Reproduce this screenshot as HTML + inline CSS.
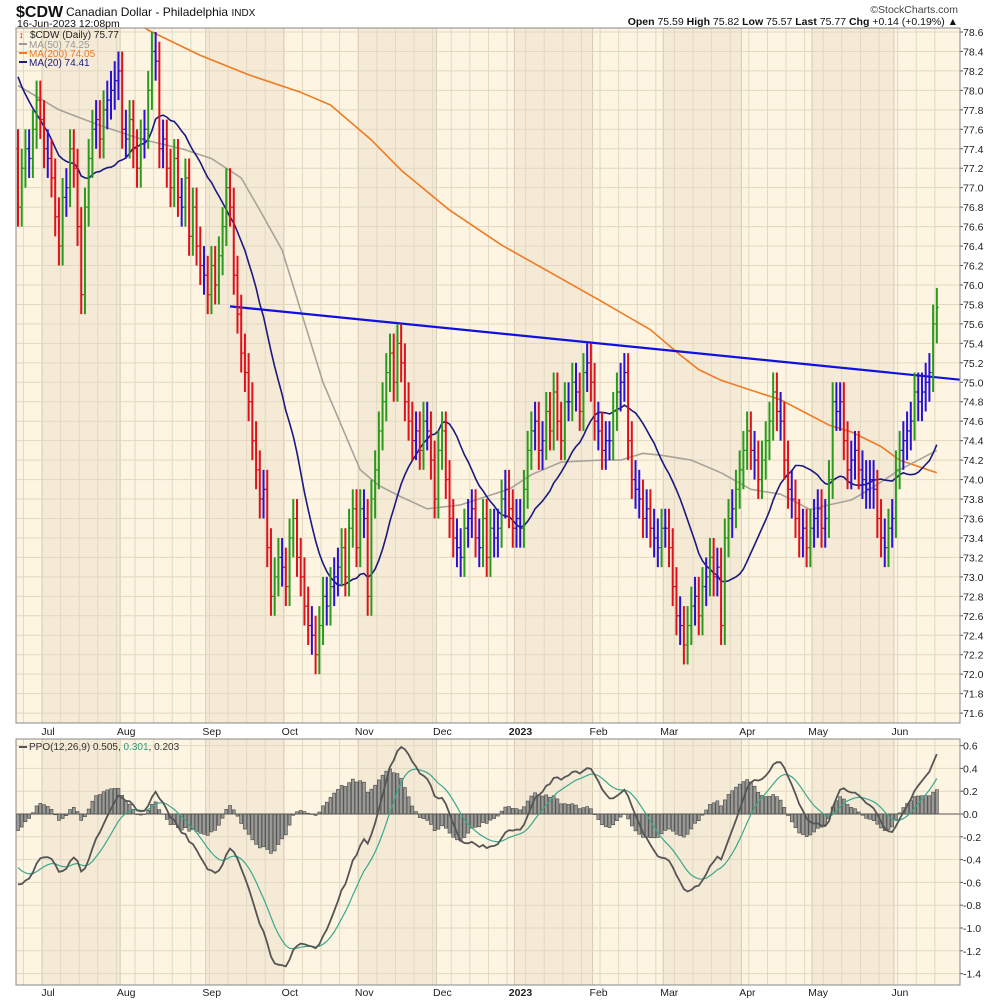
<!DOCTYPE html>
<html><head><meta charset="utf-8"><style>
html,body{margin:0;padding:0;background:#fff;}
svg{display:block;font-family:"Liberation Sans",sans-serif;}
</style></head><body>
<svg id="chart" width="1000" height="1000" viewBox="0 0 1000 1000" xmlns="http://www.w3.org/2000/svg">
<g id="bg"></g>
<g id="grid"></g>
<g id="ma"></g>
<g id="bars"></g>
<g id="ppo"></g>
<g id="axes"></g>
<text x="16" y="17" font-size="16" font-weight="bold" fill="#111">$CDW</text>
<text x="66" y="16" font-size="12" fill="#111">Canadian Dollar - Philadelphia <tspan font-size="10">INDX</tspan></text>
<text x="17" y="27" font-size="10.5" fill="#111">16-Jun-2023 12:08pm</text>
<text x="958" y="13" font-size="10.5" fill="#444" text-anchor="end">©StockCharts.com</text>
<text x="958" y="25" font-size="10.5" fill="#111" text-anchor="end"><tspan font-weight="bold">Open</tspan> 75.59 <tspan font-weight="bold">High</tspan> 75.82 <tspan font-weight="bold">Low</tspan> 75.57 <tspan font-weight="bold">Last</tspan> 75.77 <tspan font-weight="bold">Chg</tspan> +0.14 (+0.19%) ▲</text>
<g font-size="10">
<text x="30" y="38" fill="#222">$CDW (Daily) 75.77</text>
<text x="19" y="38" fill="#c00" font-size="9">↕</text>
<rect x="19" y="43" width="8" height="2" fill="#999"/><text x="29" y="48" fill="#999">MA(50) 74.25</text>
<rect x="19" y="52" width="8" height="2" fill="#f07a22"/><text x="29" y="57" fill="#f07a22">MA(200) 74.05</text>
<rect x="19" y="61" width="8" height="2" fill="#1a1a80"/><text x="29" y="66" fill="#1a1a80">MA(20) 74.41</text>
</g>
<g font-size="10">
<rect x="19" y="746" width="8" height="2" fill="#555"/><text x="29" y="750" fill="#333">PPO(12,26,9) 0.505, <tspan fill="#2a9a80">0.301</tspan>, 0.203</text>
</g>
</svg>
<script>
// ---- data ----
const priorCloses = [79.0,79.1,79.2,79.0,79.1,79.3,79.2,79.0,78.8,79.0,79.1,78.9,78.7,78.5,78.6,78.4,78.0,77.6,77.5,77.7,77.3,77.5,77.6,77.2,77.4];
const closes = [
76.8,77.2,77.4,77.3,77.6,77.9,77.7,77.4,77.3,77.1,
76.7,76.4,76.9,77.0,77.4,77.2,76.6,75.9,76.8,77.3,
77.6,77.7,77.5,77.8,77.9,78.0,78.1,78.2,77.6,77.5,
77.7,77.4,77.2,77.5,77.6,78.0,78.4,78.3,77.4,77.5,
77.2,77.0,77.3,76.9,76.8,77.1,76.5,76.8,76.4,76.2,
76.1,75.9,76.2,76.0,76.3,76.6,77.0,76.8,76.1,75.7,
75.3,75.1,74.8,74.4,74.1,73.8,73.9,73.3,72.8,73.0,
73.2,73.1,72.9,73.4,73.6,73.2,73.0,72.7,72.5,72.4,
72.2,72.5,72.8,72.7,72.9,73.0,73.1,73.3,73.0,73.5,
73.7,73.3,73.7,73.6,72.8,73.8,74.1,74.5,74.8,75.1,
75.3,75.0,75.4,75.2,74.8,74.6,74.4,74.5,74.3,74.6,
74.5,74.2,73.8,74.3,74.5,74.0,73.6,73.4,73.3,73.2,
73.5,73.6,73.7,73.4,73.3,73.6,73.2,73.5,73.4,73.5,
73.8,73.9,73.7,73.5,73.6,73.5,73.9,74.3,74.5,74.6,
74.3,74.4,74.7,74.5,74.9,74.6,74.4,74.8,74.8,75.0,
74.9,74.7,75.1,75.2,75.0,74.6,74.5,74.3,74.4,74.4,
74.7,74.9,75.0,75.1,74.4,74.0,73.9,73.8,73.6,73.7,
73.5,73.4,73.3,73.5,73.5,73.3,72.9,72.6,72.5,72.3,
72.5,72.7,72.8,72.6,72.9,73.0,73.2,73.0,73.1,72.5,
73.4,73.6,73.7,73.9,74.1,74.3,74.5,74.3,74.2,74.0,
74.2,74.4,74.6,74.9,74.7,74.6,74.2,73.9,73.8,73.6,
73.4,73.5,73.3,73.5,73.6,73.7,73.5,73.6,74.0,74.8,
74.7,74.8,74.4,74.1,74.2,74.3,74.1,74.0,73.9,74.0,
73.9,73.6,73.4,73.3,73.5,73.6,74.1,74.3,74.4,74.5,
74.6,74.9,74.8,74.9,75.0,75.1,75.6,75.77];
const ma50Idx = [0,11,22,33,44,52,60,65,71,76,82,92,97,102,110,119,127,132,138,146,157,162,168,173,181,189,197,205,213,218,224,229,237,247];
const ma50Val = [78.05,77.8,77.64,77.5,77.4,77.3,77.1,76.77,76.36,75.74,75.0,74.1,73.94,73.84,73.7,73.74,73.84,73.9,74.05,74.18,74.2,74.2,74.27,74.25,74.2,74.07,73.9,73.85,73.69,73.74,73.79,73.9,74.1,74.3];
const ma200Idx = [0,18,35,49,62,76,84,95,103,116,130,143,156,170,178,183,189,197,205,210,218,224,232,237,247];
const ma200Val = [79.5,79.05,78.62,78.36,78.16,77.98,77.85,77.49,77.18,76.77,76.41,76.13,75.85,75.54,75.28,75.13,75.02,74.92,74.82,74.72,74.56,74.49,74.34,74.2,74.07];
const trendStart = [57, 75.78];
const trendEnd = [255, 75.02];
const monthNames = ["Jul","Aug","Sep","Oct","Nov","Dec","2023","Feb","Mar","Apr","May","Jun"];
const monthStartIdx = [7,28,51,72,92,113,134,155,174,195,214,236];
const priceTicks = [78.6,78.4,78.2,78.0,77.8,77.6,77.4,77.2,77.0,76.8,76.6,76.4,76.2,76.0,75.8,75.6,75.4,75.2,75.0,74.8,74.6,74.4,74.2,74.0,73.8,73.6,73.4,73.2,73.0,72.8,72.6,72.4,72.2,72.0,71.8,71.6];
const ppoTicks = [0.6,0.4,0.2,0.0,-0.2,-0.4,-0.6,-0.8,-1.0,-1.2,-1.4];

// ---- scales ----
const L=16,R=960,T=28,B=723,PT=739,PB=985;
const bx=i=>18+i*3.72;
const py=p=>32+(78.6-p)*97.3;
const qy=v=>814-v*114;
const NS="http://www.w3.org/2000/svg";
function mk(tag,attrs,parent){const e=document.createElementNS(NS,tag);for(const k in attrs)e.setAttribute(k,attrs[k]);parent.appendChild(e);return e;}
const bg=document.getElementById('bg'),grid=document.getElementById('grid'),maG=document.getElementById('ma'),barsG=document.getElementById('bars'),ppoG=document.getElementById('ppo'),axes=document.getElementById('axes');

[[T,B],[PT,PB]].forEach(([t,b],k)=>{
  const r=mk('rect',{x:L,y:t,width:R-L,height:b-t,fill:'#fdf5e2'},bg);
  
  
  monthStartIdx.forEach((s,m)=>{
    if(m%2===0){const e=m+1<monthStartIdx.length?monthStartIdx[m+1]:248;
      const x1=Math.max(L,bx(s)-2),x2=Math.min(R,bx(e)-2);
      const sh=mk('rect',{x:x1,y:t,width:x2-x1,height:b-t,fill:'#f4ead6'},bg);
      
      }
  });
});
for(let i=2;i<248;i+=5){const x=bx(i)-2;
  mk('line',{x1:x,x2:x,y1:T,y2:B,stroke:'#e2d8c2','stroke-width':1},grid);
  mk('line',{x1:x,x2:x,y1:PT,y2:PB,stroke:'#e2d8c2','stroke-width':1},grid);}
monthStartIdx.forEach(s=>{const x=bx(s)-2;
  mk('line',{x1:x,x2:x,y1:T,y2:B,stroke:'#d6cbb2'},grid);mk('line',{x1:x,x2:x,y1:PT,y2:PB,stroke:'#d6cbb2'},grid);});
priceTicks.forEach(p=>{mk('line',{x1:L,x2:R,y1:py(p),y2:py(p),stroke:'#e2d8c2'},grid);
  const t=mk('text',{x:963,y:py(p)+4,'font-size':10.5,fill:'#222'},axes);t.textContent=p.toFixed(1);
  
  
  mk('line',{x1:R,x2:R+3,y1:py(p),y2:py(p),stroke:'#555'},axes);});
ppoTicks.forEach(v=>{mk('line',{x1:L,x2:R,y1:qy(v),y2:qy(v),stroke:'#e2d8c2'},grid);
  const t=mk('text',{x:963,y:qy(v)+4,'font-size':10.5,fill:'#222'},axes);t.textContent=v.toFixed(1);
  
  
  mk('line',{x1:R,x2:R+3,y1:qy(v),y2:qy(v),stroke:'#555'},axes);});
monthStartIdx.forEach((s,m)=>{
  [735,996].forEach(y=>{const t=mk('text',{x:bx(s)+4,y:y,'font-size':10.5,fill:'#222','text-anchor':'middle','font-weight':monthNames[m]==='2023'?'bold':'normal'},axes);
  t.textContent=monthNames[m];
  
  });
});
mk('rect',{x:L,y:T,width:R-L,height:B-T,fill:'none',stroke:'#888'},axes);
mk('rect',{x:L,y:PT,width:R-L,height:PB-PT,fill:'none',stroke:'#888'},axes);

const defs=mk('defs',{},document.getElementById('chart'));
const cp=mk('clipPath',{id:'pc'},defs);mk('rect',{x:L,y:T,width:R-L,height:B-T},cp);
maG.setAttribute('clip-path','url(#pc)');barsG.setAttribute('clip-path','url(#pc)');

function pathFrom(idx,vals,yf){return idx.map((i,k)=>(k?'L':'M')+bx(i).toFixed(1)+','+yf(vals[k]).toFixed(1)).join('');}
const m200=mk('path',{d:pathFrom(ma200Idx,ma200Val,py),fill:'none',stroke:'#f07a22','stroke-width':1.6,'stroke-linejoin':'round'},maG);


const m50=mk('path',{d:pathFrom(ma50Idx,ma50Val,py),fill:'none',stroke:'#a8a39a','stroke-width':1.6,'stroke-linejoin':'round'},maG);


const all=priorCloses.concat(closes),off=priorCloses.length;
const ma20=closes.map((c,i)=>{let s=0;for(let k=0;k<20;k++)s+=all[off+i-k];return s/20;});
const m20=mk('path',{d:pathFrom(closes.map((c,i)=>i),ma20,py),fill:'none',stroke:'#1a1a80','stroke-width':1.6},maG);


const slope=(trendEnd[1]-trendStart[1])/(bx(trendEnd[0])-bx(trendStart[0]));
const tl=mk('line',{x1:bx(trendStart[0]),y1:py(trendStart[1]),x2:R,y2:py(trendStart[1]+slope*(R-bx(trendStart[0]))),stroke:'#1010e0','stroke-width':2.2},maG);



closes.forEach((c,i)=>{
  const o=i?closes[i-1]:priorCloses[priorCloses.length-1];
  const hi=Math.max(o,c)+0.2,lo=Math.min(o,c)-0.2;
  const col=c>o+0.15?'#2a9a1a':(c<o-0.15?'#e0101a':'#2a10d0');
  const x=bx(i);
  const g=mk('g',{},barsG);
  
  
  mk('line',{x1:x,x2:x,y1:py(hi),y2:py(lo),stroke:col,'stroke-width':2},g);
  mk('line',{x1:x-2,x2:x,y1:py(o),y2:py(o),stroke:col,'stroke-width':1.2},g);
  mk('line',{x1:x,x2:x+2,y1:py(c),y2:py(c),stroke:col,'stroke-width':1.2},g);
});

function ema(arr,n){const k=2/(n+1);const out=[];let e=arr[0];arr.forEach((v,i)=>{e=i?v*k+e*(1-k):v;out.push(e);});return out;}
const e12=ema(all,12),e26=ema(all,26);
const ppoAll=all.map((v,i)=>(e12[i]-e26[i])/e26[i]*100);
const sigAll=ema(ppoAll,9);
const ppo=ppoAll.slice(off),sig=sigAll.slice(off);
ppo.forEach((v,i)=>{const h=v-sig[i];const y1=qy(Math.max(h,0)),y2=qy(Math.min(h,0));
  const r=mk('rect',{x:bx(i)-1.5,y:y1,width:3,height:Math.max(0.5,y2-y1),fill:'#9a9a96',stroke:'#444','stroke-width':0.6},ppoG);
  
  });
mk('line',{x1:L,x2:R,y1:qy(0),y2:qy(0),stroke:'#555','stroke-width':1},ppoG);
const idx=ppo.map((v,i)=>i);
const sl=mk('path',{d:pathFrom(idx,sig,qy),fill:'none',stroke:'#3aa88c','stroke-width':1.2},ppoG);


const pl=mk('path',{d:pathFrom(idx,ppo,qy),fill:'none',stroke:'#555','stroke-width':1.8},ppoG);


</script>
</body></html>
